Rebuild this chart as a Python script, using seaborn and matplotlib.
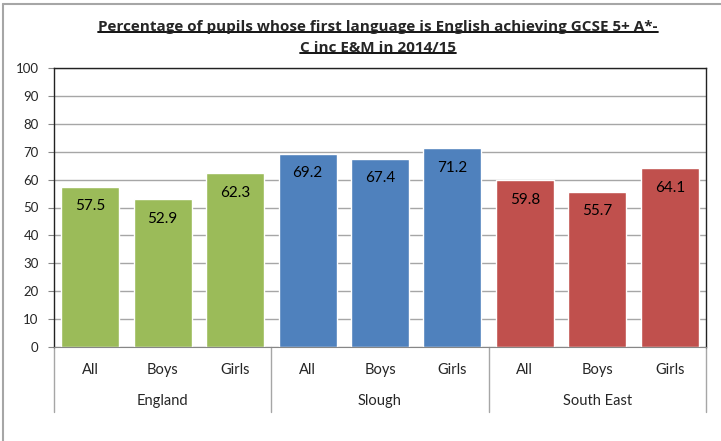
import numpy as np
import pandas as pd
import seaborn as sns
import matplotlib.pyplot as plt
from matplotlib.lines import Line2D

# Data
regions = ['England', 'Slough', 'South East']
groups = ['All', 'Boys', 'Girls']
england = [57.5, 52.9, 62.3]
slough = [69.2, 67.4, 71.2]
south_east = [59.8, 55.7, 64.1]
colors = ['#9BBB59', '#4F81BD', '#C0504D']

rows = []
for region, vals in zip(regions, [england, slough, south_east]):
    for g, v in zip(groups, vals):
        rows.append({'key': f'{region} {g}', 'region': region, 'group': g, 'value': v})
df = pd.DataFrame(rows)

sns.set_style('white')
plt.rcParams['font.family'] = ['Lato', 'DejaVu Sans']

fig = plt.figure(figsize=(7.21, 4.41), dpi=100)
ax = fig.add_axes([54 / 721, 1 - 347 / 441, (706 - 54) / 721, (347 - 68) / 441])

sns.barplot(data=df, x='key', y='value', hue='region', palette=colors,
            dodge=False, width=0.8, legend=False, ax=ax, saturation=1)

ax.set_xlim(-0.5, len(df) - 0.5)
ax.set_ylim(0, 100)
ax.set_yticks(np.arange(0, 101, 10))
ax.yaxis.grid(True, color='#a6a6a6', linewidth=1)
ax.set_axisbelow(True)
ax.set_xlabel('')
ax.set_ylabel('')

for s in ['top', 'right', 'left']:
    ax.spines[s].set_color('#222222')
    ax.spines[s].set_linewidth(1)
ax.spines['bottom'].set_color('#868686')

ax.tick_params(axis='y', left=True, length=4, color='#868686', labelsize=9.5, pad=7)
ax.set_xticks(range(len(df)))
ax.set_xticklabels(df['group'])
ax.tick_params(axis='x', bottom=False, labelsize=10.5, pad=8)

# value labels inside the bars
for i, v in enumerate(df['value']):
    ax.annotate(f'{v:.1f}', (i, v), xytext=(0, -14), textcoords='offset points',
                ha='center', va='center', fontsize=11, color='black')

# group labels and separators
trans = ax.get_xaxis_transform()
for k, region in enumerate(regions):
    ax.text(3 * k + 1, -0.194, region, transform=trans, ha='center', va='center',
            fontsize=10.5)
for xb in [-0.5, 2.5, 5.5, 8.5]:
    ax.add_line(Line2D([xb, xb], [0, -0.233], transform=trans, color='#a6a6a6',
                       linewidth=1, clip_on=False))

# title lines with underline
title_font = ['Open Sans', 'DejaVu Sans']
t1 = fig.text(378 / 721, 1 - 27 / 441, 'Percentage of pupils whose first language is English achieving GCSE 5+ A*-',
              ha='center', va='center', fontsize=11, fontweight='bold', family=title_font)
t2 = fig.text(378 / 721, 1 - 48 / 441, 'C inc E&M in 2014/15',
              ha='center', va='center', fontsize=11, fontweight='bold', family=title_font)
fig.canvas.draw()
r = fig.canvas.get_renderer()
for t in [t1, t2]:
    bb = t.get_window_extent(r).transformed(fig.transFigure.inverted())
    yl = bb.y0 + 0.004
    fig.add_artist(Line2D([bb.x0, bb.x1], [yl, yl], transform=fig.transFigure,
                          color='black', linewidth=1.3))

# outer chart frame (left and top edges visible)
fig.add_artist(Line2D([2.5 / 721, 2.5 / 721], [0, 1 - 4 / 441], transform=fig.transFigure,
                      color='#a6a6a6', linewidth=1.5))
fig.add_artist(Line2D([2.5 / 721, 1], [1 - 4 / 441, 1 - 4 / 441], transform=fig.transFigure,
                      color='#a6a6a6', linewidth=1.5))

fig.savefig('out.png', dpi=100)
